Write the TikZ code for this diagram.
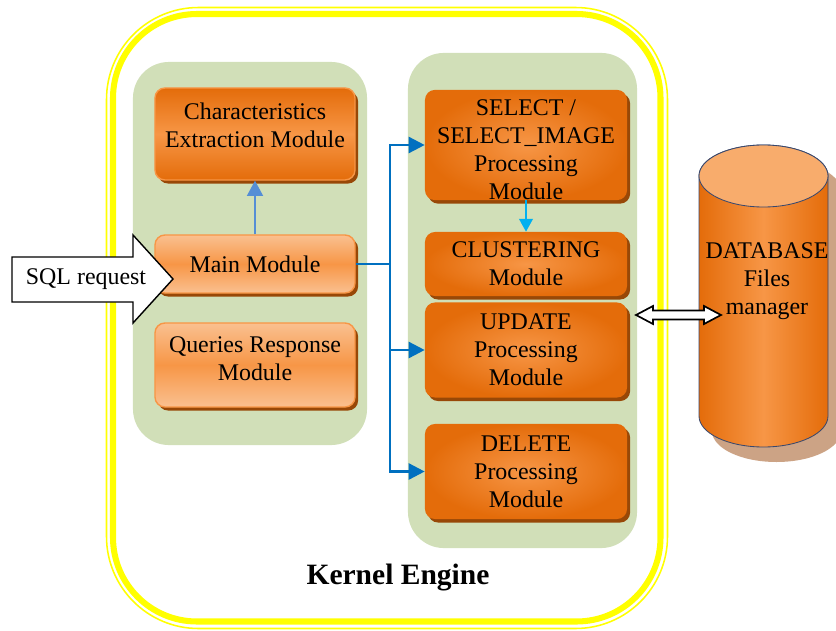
\documentclass[tikz,border=0pt]{standalone}
\usepackage{fontspec}
\setmainfont{Liberation Serif}
\usetikzlibrary{shapes,arrows.meta,shadows}

\definecolor{panelgreen}{RGB}{209,223,184}
\definecolor{orangedark}{RGB}{228,108,10}
\definecolor{orangelight}{RGB}{247,150,70}
\definecolor{orangepale}{RGB}{250,192,144}
\definecolor{shadowbrown}{RGB}{152,72,7}
\definecolor{linkblue}{RGB}{0,112,192}
\definecolor{upblue}{RGB}{85,142,213}
\definecolor{skyblue}{RGB}{0,176,240}
\definecolor{dbshadow}{RGB}{204,163,133}
\definecolor{dbtop}{RGB}{248,172,108}
\definecolor{dbedge}{RGB}{56,72,110}
\definecolor{frameyellow}{RGB}{255,255,0}

\begin{document}
\begin{tikzpicture}[x=0.025cm, y=-0.025cm, font=\rmfamily\fontsize{17}{19.9}\selectfont]
\tikzstyle{panel} = [fill=panelgreen, rounded corners=0.9cm]
\tikzstyle{boxshadow} = [drop shadow={shadow xshift=2.2pt, shadow yshift=-2.5pt, fill=shadowbrown, opacity=1}]
\tikzstyle{lightbox} = [boxshadow, rounded corners=0.25cm, draw=orangelight, line width=1pt, top color=orangepale, bottom color=orangepale, middle color=orangelight, minimum width=5cm, align=center, inner sep=2pt]
\tikzstyle{darkbox} = [boxshadow, rounded corners=0.25cm, draw=orangelight, line width=1pt, top color=orangedark, bottom color=orangedark, middle color=orangelight, minimum width=5cm, align=center, inner sep=2pt]
\tikzstyle{procbox} = [boxshadow, rounded corners=0.25cm, inner color=orangelight, outer color=orangedark, minimum width=5.05cm, align=center, inner xsep=2pt, inner ysep=0pt]
\tikzstyle{link} = [draw=linkblue, line width=1.8pt]
\tikzstyle{linktip} = [-{Triangle[length=0.4cm, width=0.4cm]}]
\tikzstyle{uplink} = [draw=upblue, line width=1.3pt, -{Triangle[length=0.38cm, width=0.4cm]}]
\tikzstyle{skylink} = [draw=skyblue, line width=1.3pt, -{Triangle[length=0.32cm, width=0.34cm]}]
\tikzstyle{blockarrow} = [draw=black, fill=white, line width=1pt, line join=miter]

\useasboundingbox (0,0) rectangle (836,631);

% kernel frame
\draw [draw=frameyellow, line width=1.1pt, rounded corners=2.3cm] (106.5,7.5) rectangle (667.5,628.5);
\draw [draw=frameyellow, line width=4.3pt, rounded corners=2.1cm] (113,14) rectangle (660.5,621.5);

\node [panel, minimum width=5.85cm, minimum height=9.575cm] (leftpanel) at (250,253.5) {};
\node [panel, minimum width=5.725cm, minimum height=12.375cm] (rightpanel) at (522.5,300.5) {};

\node [darkbox, minimum height=2.3cm, text depth=0.45cm] (charac) at (255,134) {Characteristics\\Extraction Module};
\node [lightbox, minimum height=1.45cm] (mainmod) at (255,264) {Main Module};
\node [lightbox, minimum height=2.1cm, text depth=0.3cm] (queries) at (255,365) {Queries Response\\Module};

\node [procbox, minimum height=2.75cm, text height=2.75cm] (select) at (526,145) {SELECT /\\SELECT\_IMAGE\\Processing\\Module};
\node [procbox, minimum height=1.6cm] (cluster) at (526,264) {CLUSTERING\\Module};
\node [procbox, minimum height=2.375cm] (update) at (526,350) {UPDATE\\Processing\\Module};
\node [procbox, minimum height=2.375cm] (delete) at (526,471.5) {DELETE\\Processing\\Module};

\draw [uplink] (mainmod.north) -- (charac.south);
\draw [skylink] (select.south) -- (cluster.north);

\coordinate (split) at (390,264);
\draw [link] (mainmod.east) -- (split);
\draw [link, linktip] (split) |- (select.west);
\draw [link, linktip] (split) |- (update.west);
\draw [link, linktip] (split) |- (delete.west);

% SQL request arrow
\draw [blockarrow] (12,257) -- (133,257) -- (133,235) -- (173,279) -- (133,323) -- (133,302) -- (12,302) -- cycle;
\node (sql) at (86,279) {SQL request};

% database
\fill [dbshadow] (712,191) -- (712,431) arc [start angle=180, end angle=0, x radius=64.5, y radius=31] -- (841,191) arc [start angle=0, end angle=-180, x radius=64.5, y radius=31] -- cycle;
\shadedraw [draw=dbedge, line width=0.6pt, left color=orangedark, right color=orangedark, middle color=orangelight] (699,176) -- (699,416) arc [start angle=180, end angle=0, x radius=64.5, y radius=31] -- (828,176) arc [start angle=0, end angle=-180, x radius=64.5, y radius=31] -- cycle;
\filldraw [fill=dbtop, draw=dbedge, line width=0.6pt] (763.5,176) ellipse [x radius=64.5, y radius=31];
\node [align=center] (db) at (767,281) {DATABASE\\Files\\manager};

% double arrow to the database
\draw [blockarrow, line width=1.2pt] (636,315) -- (653,306) -- (653,310.5) -- (704,310.5) -- (704,306) -- (721,315) -- (704,324) -- (704,319.5) -- (653,319.5) -- (653,324) -- cycle;

\node [font=\rmfamily\bfseries\fontsize{21}{25}\selectfont] (kernel) at (398,578) {Kernel Engine};
\end{tikzpicture}
\end{document}
